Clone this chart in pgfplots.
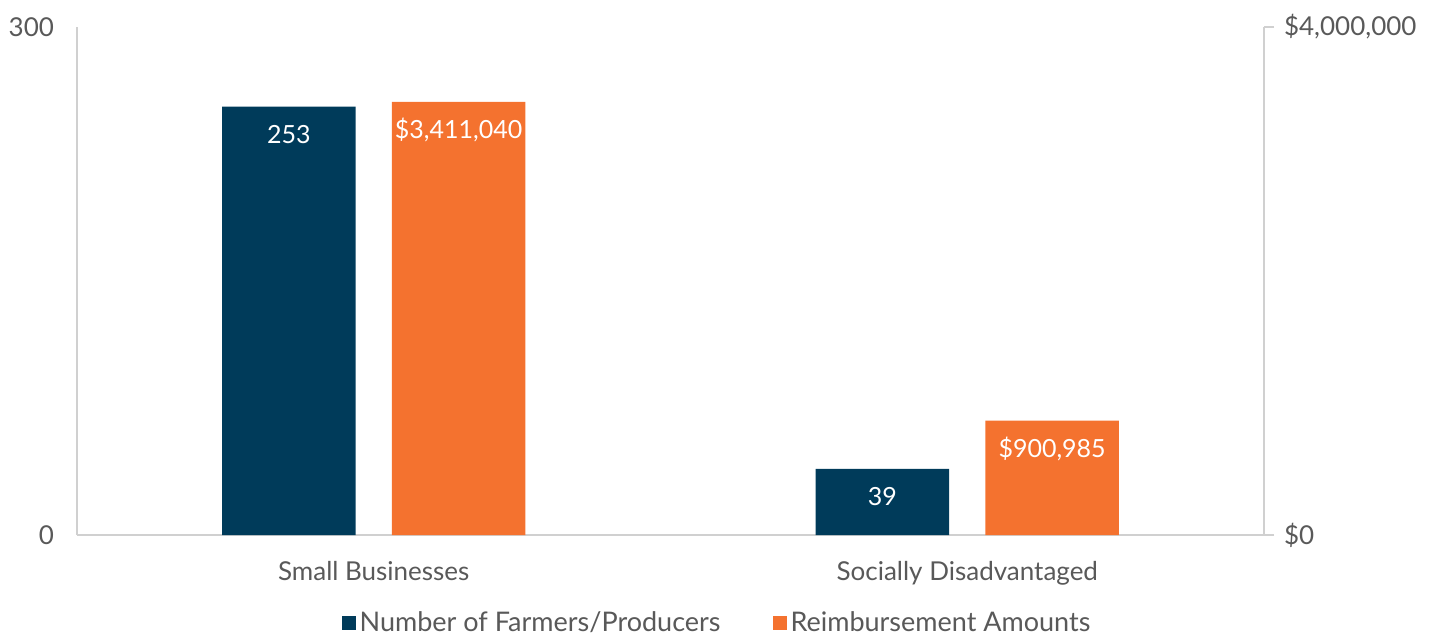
\documentclass[border=0pt]{standalone}
\usepackage{fontspec}
\setmainfont{Lato}
\usepackage{pgfplots}
\pgfplotsset{compat=1.18}
\definecolor{navy}{HTML}{003B5A}
\definecolor{orng}{HTML}{F4722F}
\definecolor{txt}{HTML}{595959}
\definecolor{axl}{HTML}{D0D0D0}
\begin{document}
\begin{tikzpicture}
\useasboundingbox (-38.5pt,-52pt) rectangle (678.5pt,267.5pt);
\pgfplotsset{
  base/.style={
    width=593.5pt, height=254pt, scale only axis,
    xmin=-0.5, xmax=1.5, ymin=0,
    ybar, bar width=0.225,
    axis line style={draw=axl, line width=1pt},
    tick style={draw=axl, line width=1pt},
    ticklabel style={font=\fontsize{13}{15}\selectfont, text=txt},
    /pgf/number format/assume math mode=true,
    nodes near coords style={font=\fontsize{12.5}{15}\selectfont, text=white},
    every node near coord/.append style={anchor=center, yshift=-14pt},
    legend image code/.code={\fill[##1] (0pt,-3.5pt) rectangle (7pt,3.5pt);},
  }
}
\begin{axis}[base,
  ymax=300,
  bar shift=-0.143,
  axis x line*=bottom, axis y line*=left,
  xtick={0,1}, xticklabels={Small Businesses, Socially Disadvantaged},
  x tick label style={yshift=-5.5pt},
  major x tick style={draw=none},
  ytick={0,300},
  major y tick style={draw=none},
  y tick label style={xshift=-8pt},
  nodes near coords,
]
\addplot[fill=navy, draw=none] coordinates {(0,253) (1,39)};
\end{axis}
\begin{axis}[base,
  ymax=4000000,
  bar shift=0.143,
  axis x line=none, axis y line*=right,
  ytick={0,4000000}, yticklabels={{\$0},{\$4,000,000}},
  scaled y ticks=false,
  tick align=outside, major tick length=5pt,
  y tick label style={xshift=1.5pt},
  nodes near coords={\$\pgfmathprintnumber[fixed,precision=0,1000 sep={,}]{\pgfplotspointmeta}},
  legend style={at={(0.54,-0.174)}, anchor=center, draw=none,
    font=\fontsize{13.5}{16}\selectfont, text=txt,
    /tikz/every even column/.append style={column sep=24pt}},
  legend columns=2,
]
\addlegendimage{fill=navy, draw=none}
\addplot[fill=orng, draw=none] coordinates {(0,3411040) (1,900985)};
\legend{Number of Farmers/Producers, Reimbursement Amounts}
\end{axis}
\end{tikzpicture}
\end{document}
